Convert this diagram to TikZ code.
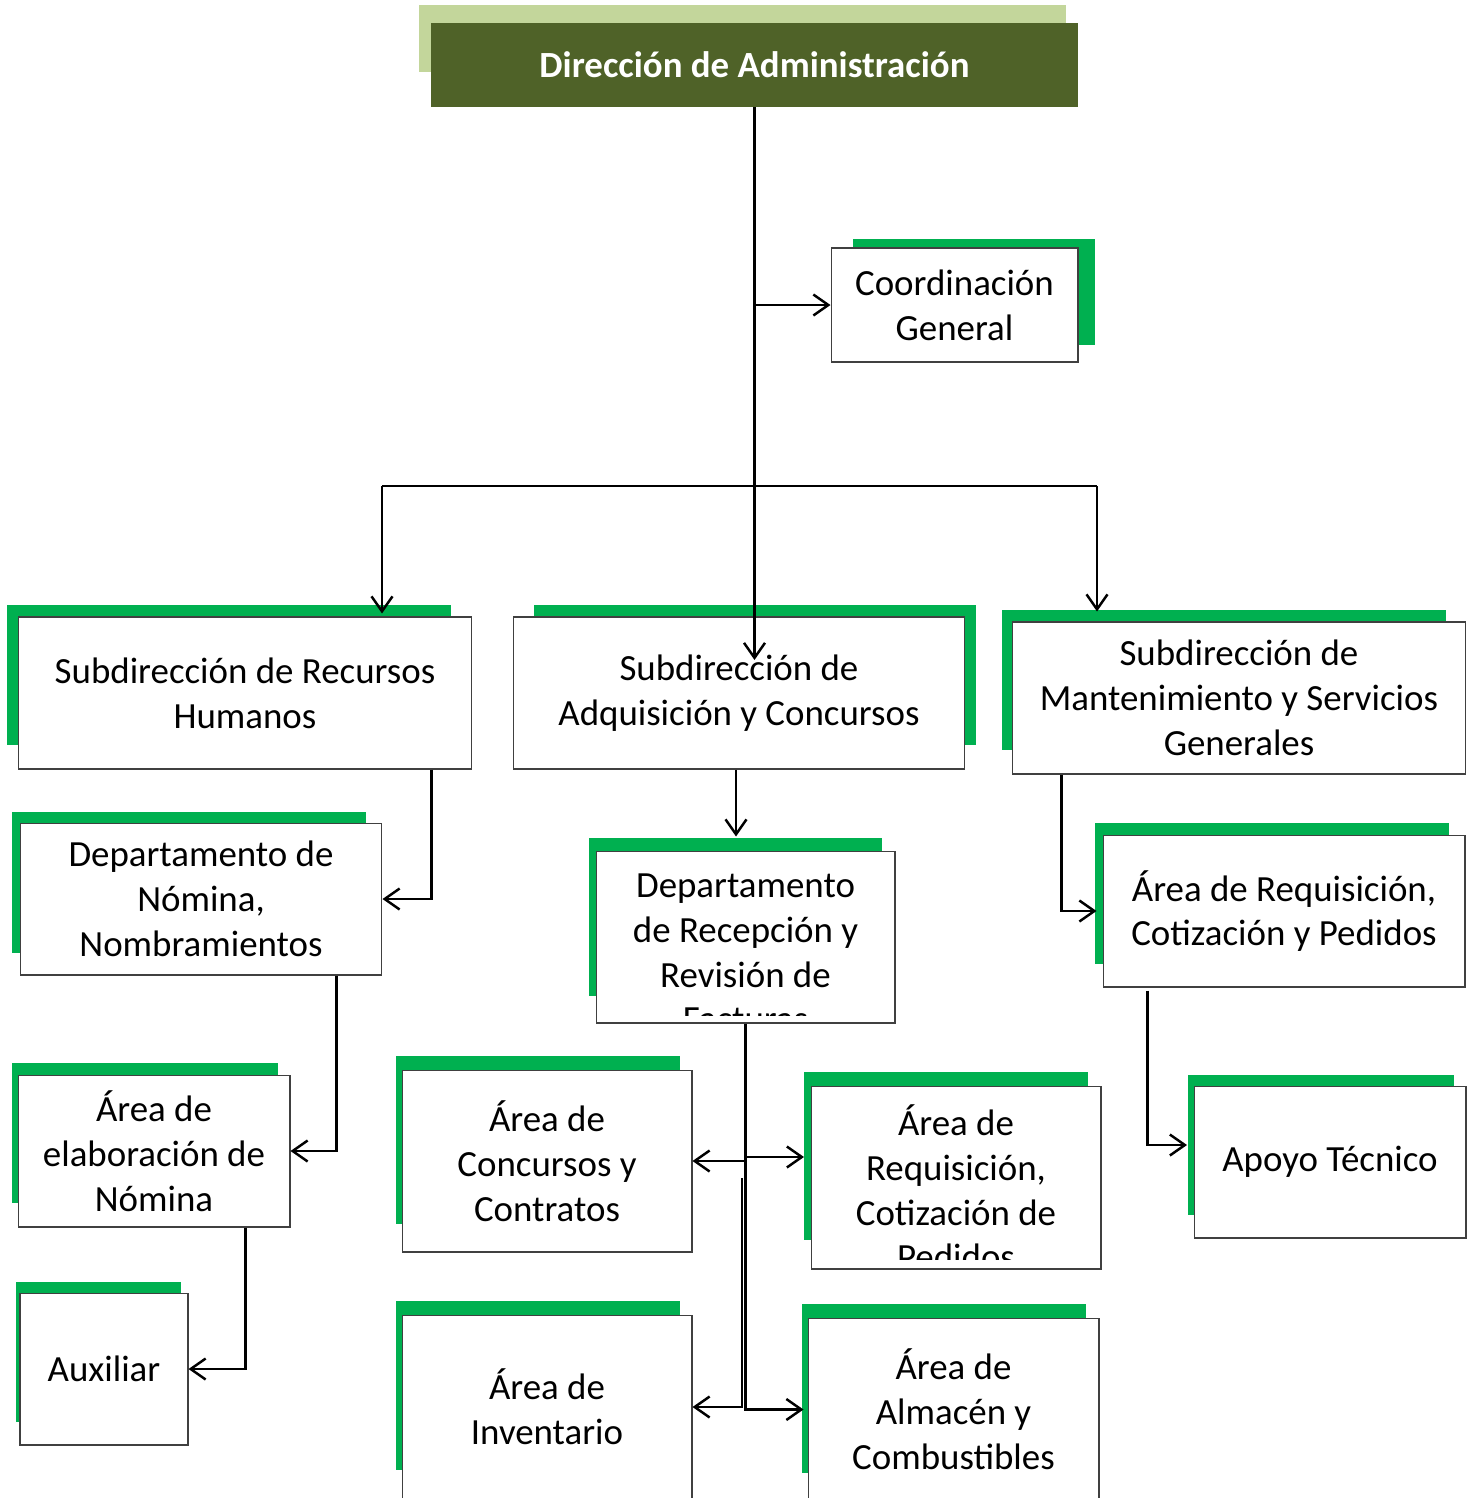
\documentclass[tikz,border=0pt]{standalone}
\usepackage{fontspec}
\setmainfont{Carlito}
\usetikzlibrary{positioning}
\usetikzlibrary{arrows.meta}
\usetikzlibrary{calc}
\definecolor{verdeosc}{HTML}{4F6228}
\definecolor{verdeclaro}{HTML}{C3D69B}
\definecolor{verde}{HTML}{00B050}

\begin{document}
\begin{tikzpicture}[x=0.02cm,y=-0.02cm,every node/.style={inner sep=0pt,align=center,font=\fontsize{21}{25.5}\selectfont}]

	\tikzstyle{caja}=[rectangle,draw=black!75,line width=0.6pt,fill=white]
	\tikzstyle{flecha}=[line width=1.4pt,-{Straight Barb[length=3mm,width=4.2mm]}]
	\tikzstyle{linea}=[line width=1.4pt]

	\useasboundingbox (0,0) rectangle (1473,1498);
	\clip (0,0) rectangle (1473,1498);

	% sombras verdes
	\fill[verdeclaro] (419,5) rectangle (1066,72);
	\foreach \xa/\ya/\xb/\yb in {853/239/1095/345, 7/605/451/745, 534/605/976/745, 1002/610/1446/750,
		12/812/366/953, 12/1063/278/1203, 16/1282/181/1422, 589/838/882/996,
		396/1056/680/1224, 804/1072/1088/1240, 396/1301/680/1470, 802/1304/1086/1473,
		1095/823/1449/964, 1188/1075/1454/1215}
		\fill[verde] (\xa,\ya) rectangle (\xb,\yb);

	\node [fill=verdeosc,minimum width=12.94cm,minimum height=1.68cm,text=white,font=\fontsize{21}{25.5}\selectfont\bfseries] (dir) at (754.5,65) {Dirección de Administración};
	\node [caja,minimum width=4.94cm,minimum height=2.28cm] (coord) at (954.5,305) {Coordinación\\General};

	\node [caja,minimum width=9.08cm,minimum height=3.04cm] (subrh) at (245,693) {Subdirección de Recursos\\Humanos};
	\node [caja,minimum width=9.04cm,minimum height=3.04cm] (subadq) at (739,693) {Subdirección de\\Adquisición y Concursos};
	\node [caja,minimum width=9.08cm,minimum height=3.04cm] (submant) at (1239,698) {Subdirección de\\Mantenimiento y Servicios\\Generales};

	\node [caja,minimum width=7.24cm,minimum height=3.04cm] (depnom) at (201,899) {Departamento de\\Nómina,\\Nombramientos};
	\node [caja,minimum width=5.44cm,minimum height=3.04cm] (areaelab) at (154,1151) {Área de\\elaboración de\\Nómina};
	\node [caja,minimum width=3.36cm,minimum height=3.04cm] (aux) at (104,1369) {Auxiliar};

	\node [caja,minimum width=5.98cm,minimum height=3.44cm] (deprec) at (745.5,937) {};
	\begin{scope}
		\clip (deprec.north west) rectangle ($(deprec.south east)+(0,-8)$);
		\node (deprectxt) at (745.5,953) {Departamento\\de Recepción y\\Revisión de\\Facturas};
	\end{scope}
	\node [caja,minimum width=5.8cm,minimum height=3.64cm] (areacon) at (547,1161) {Área de\\Concursos y\\Contratos};
	\node [caja,minimum width=5.8cm,minimum height=3.66cm] (areareqc) at (956,1177.5) {};
	\begin{scope}
		\clip (areareqc.north west) rectangle ($(areareqc.south east)+(0,-10)$);
		\node (areareqctxt) at (956,1187.5) {Área de\\Requisición,\\Cotización de\\Pedidos};
	\end{scope}
	\node [caja,minimum width=5.8cm,minimum height=3.68cm] (areainv) at (547,1407) {Área de\\Inventario};
	\node [caja,minimum width=5.82cm,minimum height=3.66cm] (areaalm) at (953.5,1409.5) {Área de\\Almacén y\\Combustibles};

	\node [caja,minimum width=7.24cm,minimum height=3.04cm] (areareq) at (1284,911) {Área de Requisición,\\Cotización y Pedidos};
	\node [caja,minimum width=5.44cm,minimum height=3.04cm] (apoyo) at (1330,1162) {Apoyo Técnico};

	% conectores
	\coordinate (finadq) at (754.5,660);
	\coordinate (ramaizq) at (382,486);
	\coordinate (ramader) at (1097,486);
	\draw[flecha] (dir.south) -- (finadq);
	\draw[flecha] (dir.south |- coord.west) -- (coord.west);
	\draw[linea] (ramaizq) -- (ramader);
	\draw[flecha,shorten >=0.06cm] (ramaizq) -- (ramaizq |- subrh.north);
	\draw[flecha,shorten >=0.2cm] (ramader) -- (ramader |- submant.north);

	\draw[flecha] ($(subrh.south east)+(-41,0)$) |- (depnom.east);
	\draw[flecha] ($(depnom.south east)+(-46,0)$) |- (areaelab.east);
	\draw[flecha] ($(areaelab.south east)+(-45,0)$) |- (aux.east);

	\coordinate (adqsal) at ($(subadq.south)+(-3,0)$);
	\draw[flecha,shorten >=0.28cm] (adqsal) -- (adqsal |- deprec.north);
	\draw[flecha,shorten >=0.08cm] (deprec.south) |- (areaalm.west);
	\draw[flecha] (deprec.south |- areacon.east) -- (areacon.east);
	\coordinate (reqcent) at (804,1157);
	\draw[flecha] (deprec.south |- reqcent) -- (reqcent);
	\coordinate (invsal) at (742,1178);
	\draw[flecha] (invsal) |- (areainv.east);

	\draw[flecha,shorten >=0.12cm] ($(submant.south west)+(50,0)$) |- (areareq.west);
	\coordinate (apoyoent) at (1187,1145);
	\draw[flecha] ($(areareq.south west)+(45,3)$) |- (apoyoent);

\end{tikzpicture}
\end{document}
